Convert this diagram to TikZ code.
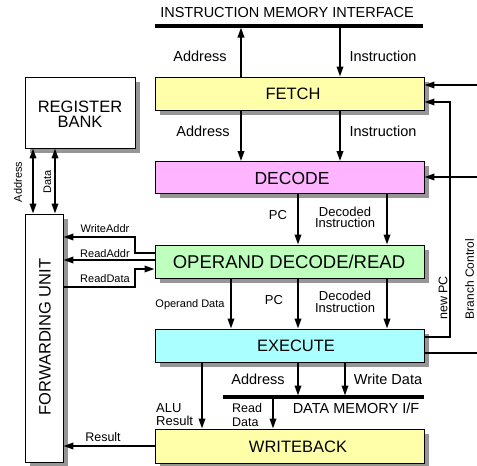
\documentclass[tikz,border=0pt]{standalone}
\usepackage{fontspec}
\setmainfont{Liberation Sans}
\usetikzlibrary{arrows.meta,shadows}

\definecolor{fetchyel}{RGB}{255,255,170}
\definecolor{decpink}{RGB}{255,180,255}
\definecolor{oprgreen}{RGB}{190,255,190}
\definecolor{execyan}{RGB}{170,255,255}
\definecolor{shadowgray}{RGB}{150,150,150}

\newcommand\pxfont[2]{\fontsize{#1}{#2}\selectfont}

\tikzset{
  shadowed/.style={drop shadow={shadow xshift=4.5pt, shadow yshift=-4.5pt,
      fill=shadowgray, opacity=1}},
  stage/.style={draw, line width=0.9pt, minimum width=269pt, minimum height=33pt,
      inner sep=0pt, shadowed},
  unitbox/.style={draw, line width=0.9pt, fill=white, inner sep=0pt, shadowed},
  title/.style={font=\pxfont{16.5}{18}, inner sep=0pt},
  lbl/.style={font=\pxfont{14.5}{16}, inner sep=0pt},
  midlbl/.style={font=\pxfont{13}{11.5}, inner sep=0pt, align=center},
  smalllbl/.style={font=\pxfont{11}{12}, inner sep=0pt},
  link/.style={line width=1.9pt},
  arr/.style={link, -{Triangle[length=10pt,width=6.5pt]}},
  dblarr/.style={link, {Triangle[length=10pt,width=6.5pt]}-{Triangle[length=10pt,width=6.5pt]}},
  bus/.style={line width=3.6pt},
}

\begin{document}
\begin{tikzpicture}[x=1pt,y=-1pt]
\useasboundingbox (0,0) rectangle (477,466);

% ---- pipeline stages ----
\node[stage, fill=fetchyel] (fetch) at (289.5,93.5) {};
\node[stage, fill=decpink, minimum height=32pt] (decode) at (289.5,177.5) {};
\node[stage, fill=oprgreen] (opr) at (289.5,261.5) {};
\node[stage, fill=execyan] (exe) at (289.5,345.5) {};
\node[stage, fill=fetchyel, minimum height=34pt] (wb) at (289.5,446) {};

\node[title] (fetchT) at (293,93.5) {FETCH};
\node[title, font=\pxfont{17.5}{19}] (decodeT) at (292,178) {DECODE};
\node[title, font=\pxfont{18.5}{20}] (oprT) at (289,262) {OPERAND DECODE/READ};
\node[title] (exeT) at (296,346) {EXECUTE};
\node[title] (wbT) at (298,446.5) {WRITEBACK};

% ---- register bank and forwarding unit ----
\node[unitbox, minimum width=110pt, minimum height=71pt] (rb) at (80,112.5) {};
\node[title, align=center, font=\pxfont{16.5}{15.5}] (rbT) at (80,114) {REGISTER\\BANK};
\node[unitbox, minimum width=38pt, minimum height=248pt] (fu) at (44,338) {};
\node[title, rotate=90] (fuT) at (45,337) {FORWARDING UNIT};

% ---- memory buses ----
\coordinate (imL) at (155,26);
\coordinate (imR) at (423,26);
\draw[bus] (imL) -- (imR);
\node[lbl] (imT) at (287,13) {INSTRUCTION MEMORY INTERFACE};

\coordinate (dmL) at (223,397);
\coordinate (dmR) at (424,397);
\draw[bus] (dmL) -- (dmR);
\node[lbl] (dmT) at (356,408) {DATA MEMORY I/F};

% ---- column positions of the vertical connectors ----
\coordinate (cA) at (241,0);
\coordinate (cI) at (340,0);
\coordinate (cPC) at (298,0);
\coordinate (cDI) at (387,0);
\coordinate (cOD) at (231,0);
\coordinate (cWD) at (345,0);
\coordinate (cRD) at (273,0);
\coordinate (cALU) at (202,0);
\coordinate (cRBa) at (33,0);
\coordinate (cRBd) at (55,0);

% instruction memory <-> fetch
\draw[arr, shorten >=1.5pt] (cA |- fetch.north) -- (cA |- imL);
\draw[arr] (cI |- imL) -- (cI |- fetch.north);
\node[lbl] (l1) at (200,56) {Address};
\node[lbl] (l2) at (383,56) {Instruction};

% fetch -> decode
\draw[arr] (cA |- fetch.south) -- (cA |- decode.north);
\draw[arr] (cI |- fetch.south) -- (cI |- decode.north);
\node[lbl] (l3) at (203,131) {Address};
\node[lbl] (l4) at (383,131) {Instruction};

% decode -> operand decode/read
\draw[arr] (cPC |- decode.south) -- (cPC |- opr.north);
\draw[arr] (cDI |- decode.south) -- (cDI |- opr.north);
\node[midlbl] (l5) at (278,215) {PC};
\node[midlbl] (l6) at (345,217.5) {Decoded\\Instruction};

% operand decode/read -> execute
\draw[arr] (cOD |- opr.south) -- (cOD |- exe.north);
\draw[arr] (cPC |- opr.south) -- (cPC |- exe.north);
\draw[arr] (cDI |- opr.south) -- (cDI |- exe.north);
\node[smalllbl] (l7) at (190,305) {Operand Data};
\node[midlbl] (l8) at (274,300) {PC};
\node[midlbl] (l9) at (345,302) {Decoded\\Instruction};

% execute -> data memory and writeback
\draw[arr, shorten >=1.5pt] (cPC |- exe.south) -- (cPC |- dmL);
\draw[arr, shorten >=1.5pt] (cWD |- exe.south) -- (cWD |- dmL);
\draw[arr] (cRD |- dmL) -- (cRD |- wb.north);
\draw[arr] (cALU |- exe.south) -- (cALU |- wb.north);
\node[lbl] (l10) at (258,379) {Address};
\node[lbl] (l11) at (388,379) {Write Data};
\node[font=\pxfont{12.5}{14}, inner sep=0pt, align=left, anchor=west] (l12) at (232,415) {Read\\Data};
\node[font=\pxfont{13}{13.5}, inner sep=0pt, align=left, anchor=west] (l13) at (156,414.5) {ALU\\Result};

% writeback -> forwarding unit
\draw[arr] (wb.west) -- (fu.east |- wb.west);
\node[font=\pxfont{12.5}{14}, inner sep=0pt] (l14) at (103,437) {Result};

% register bank <-> forwarding unit
\draw[dblarr] (cRBa |- rb.south) -- (cRBa |- fu.north);
\draw[dblarr] (cRBd |- rb.south) -- (cRBd |- fu.north);
\node[smalllbl, rotate=90] (l15) at (18,182) {Address};
\node[smalllbl, rotate=90] (l16) at (47.5,181.5) {Data};

% operand decode/read <-> forwarding unit
\coordinate (wa1) at (135,253);
\coordinate (wa2) at (135,237);
\coordinate (ra) at (0,260);
\coordinate (rd1) at (135,287);
\coordinate (rd2) at (135,269);
\draw[arr] (opr.west |- wa1) -- (wa1) -- (wa2) -- (fu.east |- wa2);
\draw[arr] (opr.west |- ra) -- (fu.east |- ra);
\draw[arr] (fu.east |- rd1) -- (rd1) -- (rd2) -- (opr.west |- rd2);
\node[smalllbl] (l17) at (105,228.5) {WriteAddr};
\node[smalllbl] (l18) at (105,253.5) {ReadAddr};
\node[smalllbl] (l19) at (105,279) {ReadData};

% feedback from execute: new PC and branch control
\coordinate (np1) at (450,337);
\coordinate (np2) at (450,102);
\draw[arr] (exe.east |- np1) -- (np1) -- (np2) -- (fetch.east |- np2);
\node[font=\pxfont{12.5}{14}, inner sep=0pt, rotate=90] (l20) at (443,298) {new PC};

\coordinate (bc1) at (478,85);
\coordinate (bc2) at (478,177);
\coordinate (bc3) at (478,353);
\draw[arr] (bc1) -- (fetch.east |- bc1);
\draw[arr] (bc2) -- (decode.east |- bc2);
\draw[link] (exe.east |- bc3) -- (bc3);
\node[font=\pxfont{12}{14}, inner sep=0pt, rotate=90] (l21) at (469.5,279) {Branch Control};
\end{tikzpicture}
\end{document}
